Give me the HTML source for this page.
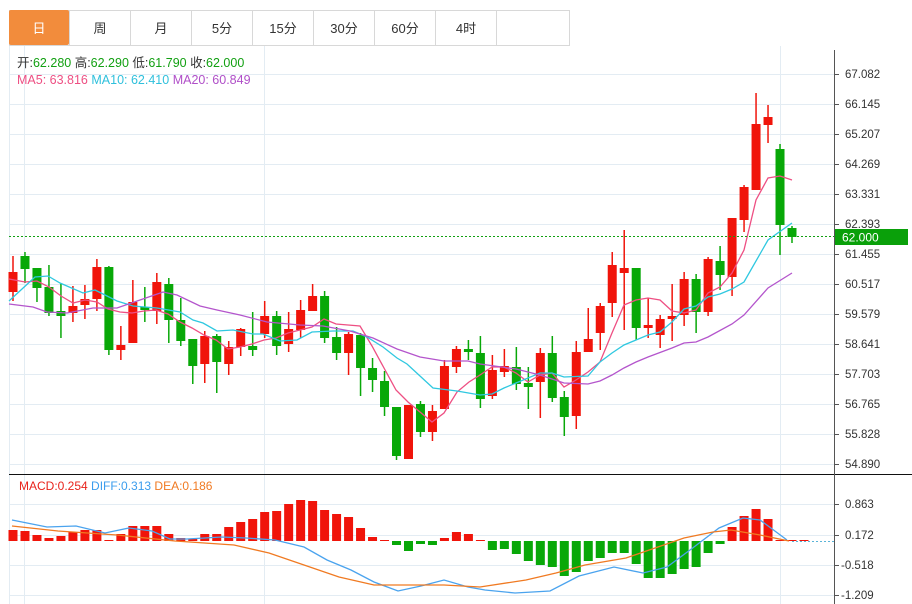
<!DOCTYPE html>
<html><head><meta charset="utf-8">
<style>
body{margin:0;background:#fff;width:912px;height:604px;overflow:hidden;font-family:"Liberation Sans","Noto Sans CJK SC",sans-serif;}
svg{position:absolute;left:0;top:0}
</style></head><body>
<svg id="s" width="912" height="604" xmlns="http://www.w3.org/2000/svg" font-family="Liberation Sans, Noto Sans CJK SC, sans-serif">
<g id="grid"></g>
<!-- tabs -->
<rect x="9.5" y="10.5" width="560" height="35" fill="#fff" stroke="#d8d8d8"/>
<rect x="9" y="10" width="60" height="35" rx="2" fill="#F28C3C"/>
<g stroke="#d8d8d8"><line x1="130.5" y1="10" x2="130.5" y2="45"/><line x1="191.5" y1="10" x2="191.5" y2="45"/><line x1="252.5" y1="10" x2="252.5" y2="45"/><line x1="313.5" y1="10" x2="313.5" y2="45"/><line x1="374.5" y1="10" x2="374.5" y2="45"/><line x1="435.5" y1="10" x2="435.5" y2="45"/><line x1="496.5" y1="10" x2="496.5" y2="45"/><line x1="69.5" y1="10" x2="69.5" y2="45"/></g>
<g font-size="13" text-anchor="middle" fill="#333">
<text x="39" y="33" fill="#fff">日</text><text x="100" y="33">周</text><text x="161" y="33">月</text><text x="222" y="33">5分</text><text x="283" y="33">15分</text><text x="344" y="33">30分</text><text x="405" y="33">60分</text><text x="466" y="33">4时</text></g>
<g font-size="12.5">
<text x="17" y="67" fill="#333">开:<tspan fill="#12a012">62.280</tspan>  高:<tspan fill="#12a012">62.290</tspan>  低:<tspan fill="#12a012">61.790</tspan>  收:<tspan fill="#12a012">62.000</tspan></text>
<text x="17" y="84"><tspan fill="#ee4f83">MA5: 63.816</tspan>   <tspan fill="#2fc0dc">MA10: 62.410</tspan>   <tspan fill="#b04fc8">MA20: 60.849</tspan></text>
<text x="19" y="490" font-size="12"><tspan fill="#e8231b">MACD:0.254</tspan>   <tspan fill="#3b9ded">DIFF:0.313</tspan>   <tspan fill="#f07a22">DEA:0.186</tspan></text>
</g>
<g id="main"></g>
<line x1="9" y1="236.5" x2="834" y2="236.5" stroke="#12a012" stroke-dasharray="2,2"/>
<rect x="834" y="229" width="74" height="16" fill="#0aa00a"/>
<text x="842" y="241.5" font-size="12" fill="#fff">62.000</text>
<line x1="9" y1="474.5" x2="912" y2="474.5" stroke="#111"/>
<line x1="834.5" y1="50" x2="834.5" y2="604" stroke="#555"/>
<g font-size="11.5" fill="#333" id="lab">
<text x="845" y="78">67.082</text><text x="845" y="108">66.145</text><text x="845" y="138">65.207</text><text x="845" y="168">64.269</text><text x="845" y="198">63.331</text><text x="845" y="228">62.393</text><text x="845" y="258">61.455</text><text x="845" y="288">60.517</text><text x="845" y="318">59.579</text><text x="845" y="348">58.641</text><text x="845" y="378">57.703</text><text x="845" y="408">56.765</text><text x="845" y="438">55.828</text><text x="845" y="468">54.890</text>
<text x="845" y="508">0.863</text><text x="845" y="539">0.172</text><text x="841" y="569">-0.518</text><text x="841" y="599">-1.209</text>
</g>
</svg>
<script>
const NS="http://www.w3.org/2000/svg";
function el(p,t,a){const e=document.createElementNS(NS,t);for(const k in a)e.setAttribute(k,a[k]);document.getElementById(p).appendChild(e);return e;}
// grid
for(let y=74;y<=464;y+=30){el('grid','line',{x1:9,x2:834,y1:y+.5,y2:y+.5,stroke:'#e3ecf3'});el('grid','line',{x1:834,x2:839,y1:y+.5,y2:y+.5,stroke:'#555'});}
[504,535,565,595].forEach(y=>{el('grid','line',{x1:9,x2:834,y1:y+.5,y2:y+.5,stroke:'#e3ecf3'});el('grid','line',{x1:834,x2:839,y1:y+.5,y2:y+.5,stroke:'#555'});});
[9,24,264,780].forEach(x=>el('grid','line',{x1:x+.5,x2:x+.5,y1:46,y2:604,stroke:'#e3ecf3'}));
const R='#f0140a',G='#08a808';
const C=[[272,292,256,301,R],[256,269,252,283,G],[268,288,268,302,G],[287,313,265,316,G],[311,316,283,338,G],[306,313,286,322,R],[299,305,285,319,R],[267,299,259,311,R],[267,350,266,355,G],[345,350,326,360,R],[302,343,280,343,R],[307,310,287,322,G],[282,311,273,324,R],[284,320,278,343,G],[320,341,298,346,G],[339,366,339,384,G],[336,364,331,383,R],[336,362,334,393,G],[347,364,341,375,R],[329,347,328,356,R],[346,350,312,356,G],[316,334,301,338,R],[316,346,311,355,G],[329,344,312,352,R],[310,330,300,338,R],[296,311,284,311,R],[296,338,291,343,G],[337,353,327,360,G],[334,353,332,375,R],[335,368,333,396,G],[368,380,358,392,G],[381,407,371,416,G],[407,456,407,460,G],[405,459,405,459,R],[404,432,401,437,G],[411,432,405,441,R],[366,409,360,409,R],[349,367,346,373,R],[349,352,340,360,G],[353,399,336,408,G],[370,396,355,399,R],[366,372,349,377,R],[367,384,347,390,G],[383,387,367,409,G],[353,382,348,418,R],[353,398,336,402,G],[397,417,391,436,G],[352,416,341,429,R],[339,352,308,352,R],[306,333,303,350,R],[265,303,252,317,R],[268,273,230,330,R],[268,328,268,340,G],[325,328,298,338,R],[319,335,315,348,R],[316,319,284,341,R],[279,315,272,326,R],[279,312,274,333,G],[259,312,257,316,R],[261,275,246,290,G],[218,277,218,296,R],[187,220,185,232,R],[124,190,93,190,R],[117,125,105,143,R],[149,225,144,255,G],[228,237,226,243,G]];
const X=i=>13+i*(779/(C.length-1));
C.forEach((c,i)=>{const x=X(i);el('main','line',{x1:x,x2:x,y1:c[2],y2:c[3],stroke:c[4],'stroke-width':1.5});el('main','rect',{x:x-4.5,y:c[0],width:9,height:Math.max(2,c[1]-c[0]),fill:c[4]});});
function pl(pts,col){el('main','polyline',{points:pts.map(p=>p.join(',')).join(' '),fill:'none',stroke:col,'stroke-width':1.3});}
pl([[9,279],[25,282],[37,281],[49,287],[61,296],[73,303],[85,300],[97,302],[108,309],[120,312],[132,313],[144,311],[156,310],[168,314],[180,322],[192,328],[204,335],[216,340],[228,349],[240,347],[252,344],[264,340],[276,338],[288,333],[300,330],[312,327],[324,319],[336,324],[348,325],[360,326],[372,346],[384,368],[396,390],[408,402],[420,412],[432,422],[444,413],[457,392],[469,382],[480,375],[492,367],[504,367],[516,373],[528,382],[540,375],[552,373],[564,387],[576,380],[588,372],[600,362],[612,333],[624,305],[636,300],[648,298],[660,300],[672,311],[684,313],[696,310],[708,293],[720,287],[732,273],[744,250],[756,200],[768,178],[780,176],[792,180]],'#ee4f83');
pl([[9,301],[35,277],[48,276],[60,283],[83,293],[95,290],[117,301],[133,306],[157,308],[180,312],[193,320],[203,323],[217,331],[233,330],[253,334],[263,334],[280,341],[297,340],[312,332],[333,331],[353,331],[367,337],[383,347],[397,358],[407,364],[420,376],[433,388],[457,391],[480,395],[492,394],[504,388],[516,383],[540,373],[552,373],[564,377],[588,376],[600,362],[612,353],[624,345],[636,340],[648,335],[660,332],[672,322],[684,309],[696,306],[708,297],[720,294],[732,289],[744,282],[768,240],[792,223]],'#2fc8e0');
pl([[9,304],[33,307],[47,312],[67,313],[93,308],[117,308],[140,300],[163,292],[177,295],[200,306],[217,310],[240,315],[267,322],[300,325],[323,326],[350,331],[373,338],[397,349],[420,357],[444,361],[468,361],[480,364],[516,369],[540,375],[564,383],[588,384],[600,381],[612,375],[624,368],[636,362],[648,357],[672,348],[684,343],[696,342],[708,337],[732,324],[744,315],[768,288],[792,273]],'#b455cc');
// MACD
const B=[530,531,535,538,536,532,530,530,540,534,526,526,526,534,538,539,534,534,527,522,519,512,511,504,500,501,510,514,517,528,537,541,545,551,544,545,538,532,534,541,550,549,554,561,565,567,576,572,561,558,553,553,564,578,578,574,569,567,553,544,527,516,509,519,540,541,541];
const Z=541;
B.forEach((b,i)=>{const x=X(i);const up=b<=Z;const h=Math.max(1,Math.abs(b-Z));el('main','rect',{x:x-4.5,y:up?Z-h:Z,width:9,height:h,fill:up?R:G});});
el('main','line',{x1:792,x2:834,y1:541.5,y2:541.5,stroke:'#5ab4d8','stroke-dasharray':'2,2'});
pl([[12,520],[47,527],[76,526],[105,533],[129,528],[152,531],[170,539],[187,539],[222,537],[246,538],[275,540],[304,547],[327,560],[351,570],[374,582],[398,591],[421,586],[444,580],[468,587],[485,590],[515,593],[550,591],[579,576],[614,567],[643,573],[667,567],[690,550],[719,528],[743,518],[760,520],[787,540]],'#4aa3ee');
pl([[12,526],[58,531],[117,535],[175,541],[234,545],[269,553],[304,565],[339,577],[374,585],[409,585],[444,585],[480,587],[526,580],[556,573],[585,565],[626,558],[655,548],[684,538],[713,532],[731,530],[760,535],[789,541]],'#f07a22');
</script>
</body></html>
